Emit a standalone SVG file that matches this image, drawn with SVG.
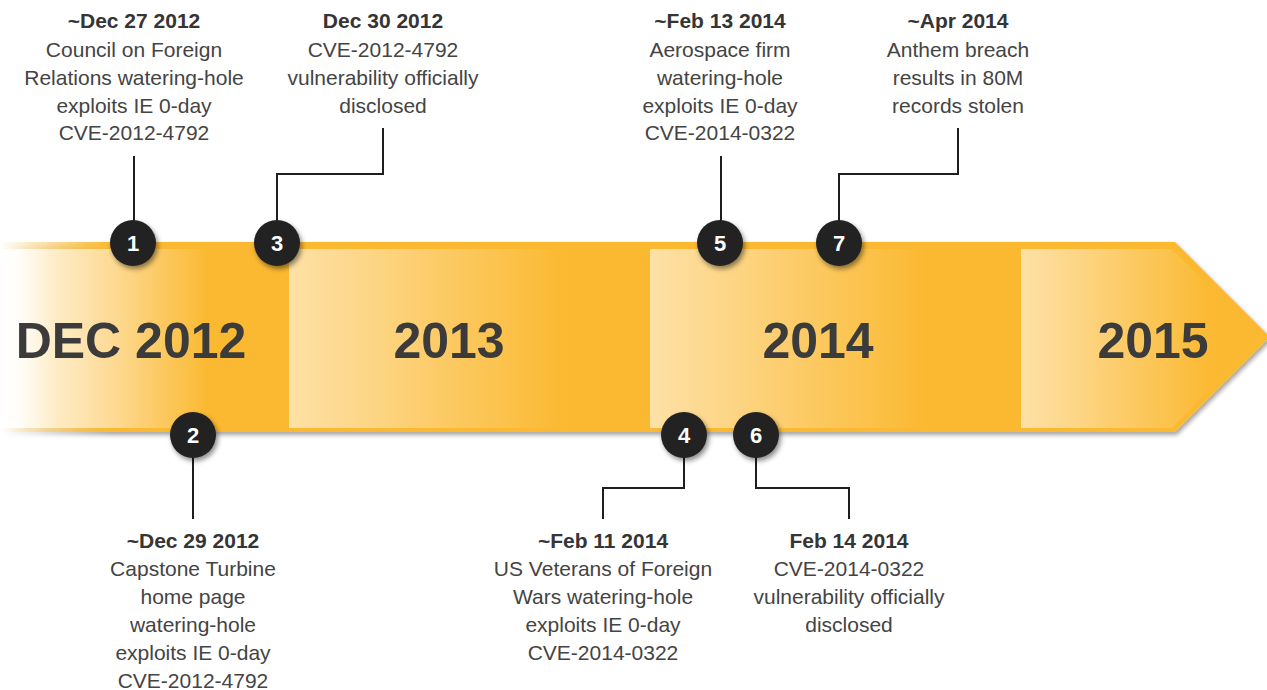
<svg xmlns="http://www.w3.org/2000/svg" width="1267" height="690" viewBox="0 0 1267 690">
<defs>
<linearGradient id="gBand" gradientUnits="userSpaceOnUse" x1="0" y1="0" x2="110" y2="0">
<stop offset="0" stop-color="#FBB931" stop-opacity="0"/>
<stop offset="1" stop-color="#FBB931"/>
</linearGradient>
<linearGradient id="gSeg1" gradientUnits="userSpaceOnUse" x1="0" y1="0" x2="289" y2="0">
<stop offset="0" stop-color="#FFFFFF"/>
<stop offset="0.07" stop-color="#FFFDF8"/>
<stop offset="0.2" stop-color="#FEEBC4"/>
<stop offset="0.38" stop-color="#FDDB97"/>
<stop offset="0.72" stop-color="#FBB931"/>
<stop offset="1" stop-color="#FBB931"/>
</linearGradient>
<linearGradient id="gSeg" x1="0" y1="0" x2="1" y2="0">
<stop offset="0" stop-color="#FDE1A6"/>
<stop offset="0.1" stop-color="#FDDC99"/>
<stop offset="0.8" stop-color="#FBB931"/>
<stop offset="1" stop-color="#FBB931"/>
</linearGradient>
<filter id="shBand" x="-5%" y="-10%" width="110%" height="125%">
<feDropShadow dx="2" dy="3" stdDeviation="2" flood-color="#000" flood-opacity="0.35"/>
</filter>
<filter id="shDot" x="-40%" y="-40%" width="190%" height="190%">
<feDropShadow dx="2" dy="3" stdDeviation="2.5" flood-color="#000" flood-opacity="0.45"/>
</filter>
<style>
.t{font-family:"Liberation Sans",Arial,sans-serif;font-size:21px;fill:#444;text-anchor:middle}
.b{font-weight:bold;fill:#353535}
.yr{font-family:"Liberation Sans",Arial,sans-serif;font-size:50px;font-weight:bold;fill:#3B3B3B;text-anchor:middle}
.dot{fill:#222222;filter:url(#shDot)}
.num{font-family:"Liberation Sans",Arial,sans-serif;font-size:22px;font-weight:bold;fill:#FFFFFF;text-anchor:middle}
.ln{fill:none;stroke:#1E1E1E;stroke-width:2}
</style>
</defs>

<g id="band">
<path d="M0,242 H1175 L1270,337 L1175,432 H0 Z" fill="url(#gBand)" filter="url(#shBand)"/>
<rect x="0" y="249" width="289" height="179" fill="url(#gSeg1)"/>
<rect x="289" y="249" width="345" height="179" fill="url(#gSeg)"/>
<rect x="650" y="249" width="345" height="179" fill="url(#gSeg)"/>
<polygon points="1021,249 1172,249 1260,337 1172,428 1021,428" fill="url(#gSeg)"/>
<text class="yr" x="131" y="358">DEC 2012</text>
<text class="yr" x="449" y="358">2013</text>
<text class="yr" x="818" y="358">2014</text>
<text class="yr" x="1153" y="358">2015</text>
</g>

<g id="connectors">
<polyline class="ln" points="134,156 134,222"/>
<polyline class="ln" points="383,128 383,174 277,174 277,222"/>
<polyline class="ln" points="721,156 721,222"/>
<polyline class="ln" points="958,128 958,174 839,174 839,222"/>
<polyline class="ln" points="193,456 193,519"/>
<polyline class="ln" points="684,456 684,488 603,488 603,519"/>
<polyline class="ln" points="756,456 756,488 849,488 849,519"/>
</g>

<g id="event1">
<circle class="dot" cx="133" cy="243" r="23"/>
<text class="num" x="133" y="251">1</text>
<text class="t b" x="134" y="28">~Dec 27 2012</text>
<text class="t" x="134" y="57">Council on Foreign</text>
<text class="t" x="134" y="85">Relations watering-hole</text>
<text class="t" x="134" y="113">exploits IE 0-day</text>
<text class="t" x="134" y="140">CVE-2012-4792</text>
</g>

<g id="event2">
<circle class="dot" cx="193" cy="435" r="23"/>
<text class="num" x="193" y="443">2</text>
<text class="t b" x="193" y="548">~Dec 29 2012</text>
<text class="t" x="193" y="576">Capstone Turbine</text>
<text class="t" x="193" y="604">home page</text>
<text class="t" x="193" y="632">watering-hole</text>
<text class="t" x="193" y="660">exploits IE 0-day</text>
<text class="t" x="193" y="688">CVE-2012-4792</text>
</g>

<g id="event3">
<circle class="dot" cx="277" cy="243" r="23"/>
<text class="num" x="277" y="251">3</text>
<text class="t b" x="383" y="28">Dec 30 2012</text>
<text class="t" x="383" y="57">CVE-2012-4792</text>
<text class="t" x="383" y="85">vulnerability officially</text>
<text class="t" x="383" y="113">disclosed</text>
</g>

<g id="event4">
<circle class="dot" cx="684" cy="435" r="23"/>
<text class="num" x="684" y="443">4</text>
<text class="t b" x="603" y="548">~Feb 11 2014</text>
<text class="t" x="603" y="576">US Veterans of Foreign</text>
<text class="t" x="603" y="604">Wars watering-hole</text>
<text class="t" x="603" y="632">exploits IE 0-day</text>
<text class="t" x="603" y="660">CVE-2014-0322</text>
</g>

<g id="event5">
<circle class="dot" cx="720" cy="243" r="23"/>
<text class="num" x="720" y="251">5</text>
<text class="t b" x="720" y="28">~Feb 13 2014</text>
<text class="t" x="720" y="57">Aerospace firm</text>
<text class="t" x="720" y="85">watering-hole</text>
<text class="t" x="720" y="113">exploits IE 0-day</text>
<text class="t" x="720" y="140">CVE-2014-0322</text>
</g>

<g id="event6">
<circle class="dot" cx="756" cy="435" r="23"/>
<text class="num" x="756" y="443">6</text>
<text class="t b" x="849" y="548">Feb 14 2014</text>
<text class="t" x="849" y="576">CVE-2014-0322</text>
<text class="t" x="849" y="604">vulnerability officially</text>
<text class="t" x="849" y="632">disclosed</text>
</g>

<g id="event7">
<circle class="dot" cx="839" cy="243" r="23"/>
<text class="num" x="839" y="251">7</text>
<text class="t b" x="958" y="28">~Apr 2014</text>
<text class="t" x="958" y="57">Anthem breach</text>
<text class="t" x="958" y="85">results in 80M</text>
<text class="t" x="958" y="113">records stolen</text>
</g>
</svg>
